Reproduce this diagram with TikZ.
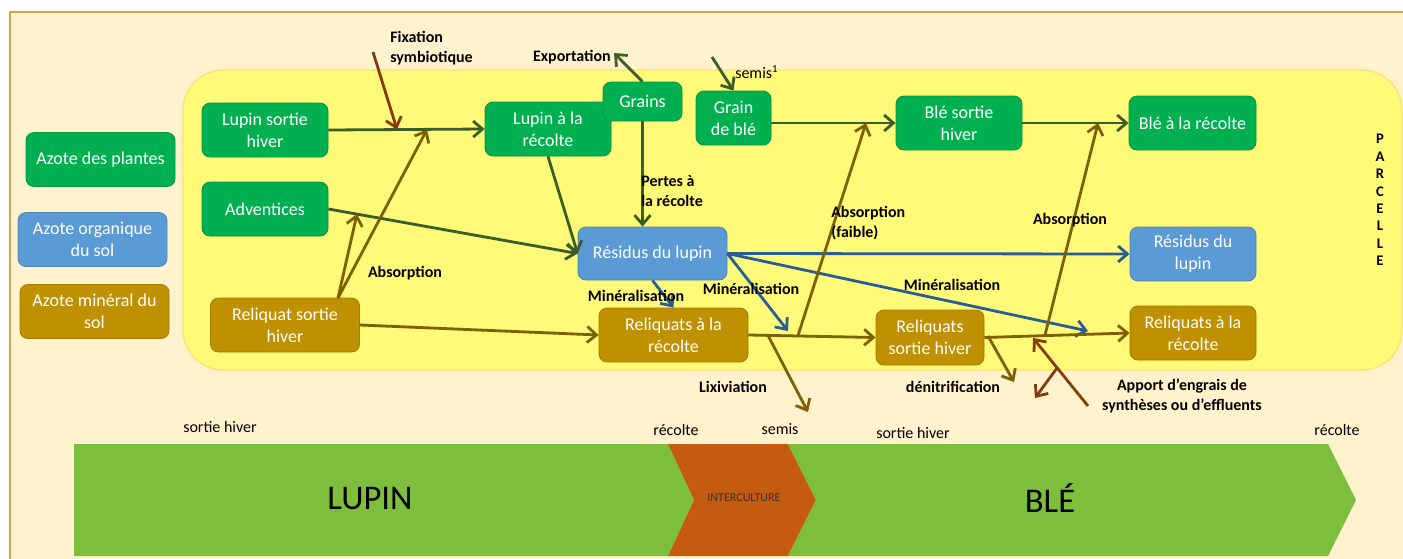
\documentclass[tikz,border=0pt]{standalone}
\usepackage{fontspec}
\setmainfont{Carlito}
\usetikzlibrary{arrows.meta}
\definecolor{fondBeige}{HTML}{FFF2CC}
\definecolor{bordBeige}{HTML}{C9A94A}
\definecolor{jauneParcelle}{HTML}{FFFA78}
\definecolor{bordJaune}{HTML}{FFE07A}
\definecolor{vertPlante}{HTML}{00B050}
\definecolor{bleuOrga}{HTML}{5B9BD5}
\definecolor{orMineral}{HTML}{BF9000}
\definecolor{vertFleche}{HTML}{3A5E2A}
\definecolor{orFleche}{HTML}{7F6000}
\definecolor{bleuFleche}{HTML}{2A5C95}
\definecolor{brunFleche}{HTML}{843C0C}
\definecolor{vertCulture}{HTML}{7DBF3D}
\definecolor{orangeInter}{HTML}{C55A11}
\begin{document}
\begin{tikzpicture}[x=0.75pt,y=-0.75pt]
			% Styles
			\tikzstyle{boite}=[rounded corners=6pt,text=white,align=center,inner sep=1pt,minimum height=40.5pt,font=\fontsize{13.5}{16.5}\selectfont,line width=0.6pt]
			\tikzstyle{plante}=[boite,fill=vertPlante,draw=vertPlante!85!black]
			\tikzstyle{organique}=[boite,fill=bleuOrga,draw=bleuOrga!85!black]
			\tikzstyle{mineral}=[boite,fill=orMineral,draw=orMineral!85!black]
			\tikzstyle{fleche}=[-{Straight Barb[length=7pt,width=12pt]},line width=2.1pt]
			\tikzstyle{etiquette}=[font=\fontsize{12}{14.5}\selectfont\bfseries,inner sep=0pt]
			\tikzstyle{date}=[font=\fontsize{12}{14}\selectfont,inner sep=0pt]
			% Dimensions
			\def\LargeurA{111.75pt}
			\def\LargeurB{94.5pt}
			% Cadre et parcelle
			\useasboundingbox (0,0) rectangle (1403,558);
			\fill[white] (0,0) rectangle (1403,558);
			\filldraw[fill=fondBeige,draw=bordBeige,line width=0.8pt] (10,12) rectangle (1420,575);
			\filldraw[fill=jauneParcelle,draw=bordJaune,line width=1pt,rounded corners=30pt] (183,70) rectangle (1402,370);
			\node[font=\fontsize{11}{13.1}\selectfont\bfseries,align=center,inner sep=0pt] (parcelle) at (1380,200) {P\\A\\R\\C\\E\\L\\L\\E};
			% Legende
			\node[plante,minimum width=\LargeurA] (legPlantes) at (100.5,159.5) {Azote des plantes};
			\node[organique,minimum width=\LargeurA] (legOrga) at (92.5,239.5) {Azote organique\\du sol};
			\node[mineral,minimum width=\LargeurA] (legMin) at (94.5,311.5) {Azote min\'eral du\\sol};
			% Noeuds
			\node[plante,minimum width=\LargeurB] (lupinSH) at (265,130) {Lupin sortie\\hiver};
			\node[plante,minimum width=\LargeurB] (adventices) at (265,209) {Adventices};
			\node[mineral,minimum width=\LargeurA] (reliquatSH) at (285,325) {Reliquat sortie\\hiver};
			\node[plante,minimum width=\LargeurB] (lupinR) at (548,129) {Lupin \`a la\\r\'ecolte};
			\node[plante,minimum width=59.25pt,minimum height=29.25pt] (grains) at (642.5,101.5) {Grains};
			\node[plante,minimum width=56.25pt] (grainBle) at (733.5,118) {Grain\\de bl\'e};
			\node[plante,minimum width=\LargeurB] (bleSH) at (959,123) {Bl\'e sortie\\hiver};
			\node[plante,minimum width=95.25pt] (bleR) at (1192.5,123) {Bl\'e \`a la r\'ecolte};
			\node[organique,minimum width=\LargeurA,minimum height=39.75pt] (residus) at (652.5,253.5) {R\'esidus du lupin};
			\node[organique,minimum width=\LargeurB] (residusB) at (1193,254) {R\'esidus du\\lupin};
			\node[mineral,minimum width=\LargeurA] (reliquatsR) at (673.5,335) {Reliquats \`a la\\r\'ecolte};
			\node[mineral,minimum width=81pt,minimum height=41.25pt] (reliquatsSH) at (930,337.5) {Reliquats\\sortie hiver};
			\node[mineral,minimum width=\LargeurB] (reliquatsRB) at (1193,333) {Reliquats \`a la\\r\'ecolte};
			% Points libres
			\coordinate (fixDepart) at (373,52);
			\coordinate (fixArrivee) at (397,129.5);
			\coordinate (rshAbs) at (338,298);
			\coordinate (absLupin) at (427,129.5);
			\coordinate (absAdv) at (357,214);
			\coordinate (export) at (614,53);
			\coordinate (semisDepart) at (712,57);
			\coordinate (absFaibleDep) at (798,335.5);
			\coordinate (absFaibleArr) at (866,123);
			\coordinate (absBleDep) at (1045,335);
			\coordinate (absBleArr) at (1098,123);
			\coordinate (minA) at (788,331);
			\coordinate (minB) at (1088,331);
			\coordinate (lixDepart) at (768,335.5);
			\coordinate (lixArrivee) at (808,412);
			\coordinate (denitDepart) at (988,336);
			\coordinate (denitArrivee) at (1014,382);
			\coordinate (apportDepart) at (1088,406);
			\coordinate (apportArrivee) at (1033,338);
			\coordinate (apportBranche) at (1057,368);
			\coordinate (apportSortie) at (1035,398);
			% Arcs : azote des plantes
			\draw[fleche,vertFleche] (lupinSH.east) -- (lupinR.west);
			\draw[fleche,vertFleche] (adventices.east) -- (residus.west);
			\draw[fleche,vertFleche] (lupinR.south) -- (residus.west);
			\draw[fleche,vertFleche] (grains.south) -- (grains.south |- residus.north);
			\draw[fleche,vertFleche] (grains.north) -- (export);
			\draw[fleche,vertFleche] (semisDepart) -- (grainBle.north);
			\draw[fleche,vertFleche] (grainBle.east |- bleSH.west) -- (bleSH.west);
			\draw[fleche,vertFleche] (bleSH.east) -- (bleR.west);
			\draw[fleche,brunFleche] (fixDepart) -- (fixArrivee);
			% Arcs : azote organique
			\draw[fleche,bleuFleche] (residus.east) -- (residusB.west);
			\draw[fleche,bleuFleche] (residus.east) -- (minB);
			\draw[fleche,bleuFleche] (residus.east) -- (minA);
			\draw[fleche,bleuFleche] (residus.south) -- (reliquatsR.north);
			% Arcs : azote mineral
			\draw[fleche,orFleche] (reliquatSH.east) -- (reliquatsR.west);
			\draw[fleche,orFleche] (reliquatsR.east) -- (reliquatsSH.west);
			\draw[fleche,orFleche] (reliquatsSH.east) -- (reliquatsRB.west);
			\draw[fleche,orFleche] (rshAbs) -- (absLupin);
			\draw[fleche,orFleche] (rshAbs) -- (absAdv);
			\draw[fleche,orFleche] (absFaibleDep) -- (absFaibleArr);
			\draw[fleche,orFleche] (absBleDep) -- (absBleArr);
			\draw[fleche,orFleche] (lixDepart) -- (lixArrivee);
			\draw[fleche,orFleche] (denitDepart) -- (denitArrivee);
			\draw[fleche,brunFleche] (apportDepart) -- (apportArrivee);
			\draw[fleche,brunFleche] (apportBranche) -- (apportSortie);
			% Etiquettes
			\node[etiquette,align=left,anchor=west] (lblFix) at (390,48) {Fixation\\symbiotique};
			\node[etiquette,anchor=east] (lblExport) at (611,57) {Exportation};
			\node[date,anchor=west] (lblSemis) at (735,72) {semis\textsuperscript{1}};
			\node[etiquette,align=left,anchor=west] (lblPertes) at (641,191) {Pertes \`a\\la r\'ecolte};
			\node[etiquette] (lblAbsA) at (405,273) {Absorption};
			\node[etiquette,align=left,anchor=west] (lblAbsB) at (831,223) {Absorption\\(faible)};
			\node[etiquette] (lblAbsC) at (1070,220) {Absorption};
			\node[etiquette] (lblMinA) at (636,296) {Min\'eralisation};
			\node[etiquette] (lblMinB) at (751,289) {Min\'eralisation};
			\node[etiquette] (lblMinC) at (952,285) {Min\'eralisation};
			\node[etiquette] (lblLix) at (733,387) {Lixiviation};
			\node[etiquette] (lblDenit) at (953,387) {d\'enitrification};
			\node[etiquette,align=center] (lblApport) at (1182,396) {Apport d’engrais de\\synth\`eses ou d’effluents};
			% Frise des cultures
			\fill[vertCulture] (74,444) -- (668,444) -- (694,500) -- (668,556) -- (74,556) -- cycle;
			\fill[orangeInter] (668,444) -- (788,444) -- (816,500) -- (788,556) -- (668,556) -- (694,500) -- cycle;
			\fill[vertCulture] (788,444) -- (1328,444) -- (1356,500) -- (1328,556) -- (788,556) -- (816,500) -- cycle;
			\node[font=\fontsize{26}{30}\selectfont] (lupin) at (370,498) {LUPIN};
			\node[font=\fontsize{9}{11}\selectfont,text=black!80] (interculture) at (744,498) {INTERCULTURE};
			\node[font=\fontsize{26}{30}\selectfont] (ble) at (1050,498) {BL\'E};
			\node[date] (dateA) at (220,427) {sortie hiver};
			\node[date] (dateB) at (676,430) {r\'ecolte};
			\node[date] (dateC) at (780,429) {semis};
			\node[date] (dateD) at (913,433) {sortie hiver};
			\node[date] (dateE) at (1337,430) {r\'ecolte};
		\end{tikzpicture}
\end{document}
